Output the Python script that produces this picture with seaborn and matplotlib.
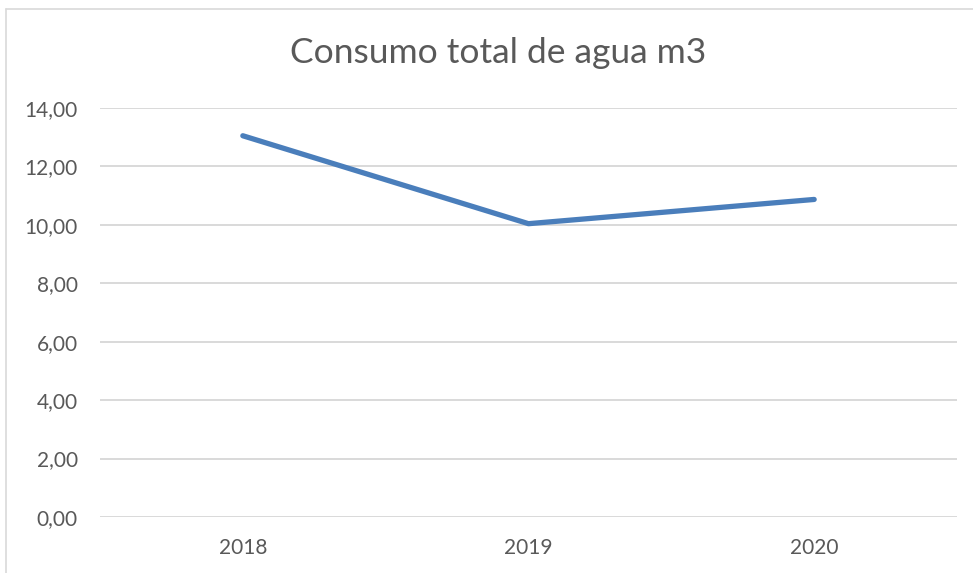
import pandas as pd
import matplotlib
matplotlib.use("Agg")
import matplotlib.pyplot as plt
from matplotlib.ticker import FuncFormatter, MultipleLocator
import seaborn as sns

# ---------- Data ----------
years = ["2018", "2019", "2020"]
consumo = [13.05, 10.04, 10.87]

df = pd.DataFrame({"Año": years, "Consumo": consumo})

# ---------- Style ----------
sns.set_style("white")
plt.rcParams["font.family"] = ["Lato", "DejaVu Sans"]

fig = plt.figure(figsize=(9.73, 5.73), dpi=100)
ax = fig.add_axes([100 / 973, 56 / 573, 857 / 973, 409 / 573])

sns.lineplot(data=df, x="Año", y="Consumo", ax=ax, color="#4A7EBB",
             linewidth=3.8, solid_capstyle="round", sort=False)

ax.set_xlim(-0.5, 2.5)
ax.set_ylim(0, 14)
ax.yaxis.set_major_locator(MultipleLocator(2))
ax.yaxis.set_major_formatter(FuncFormatter(lambda v, p: f"{v:.2f}".replace(".", ",")))
ax.grid(axis="y", color="#D9D9D9", linewidth=1.4)
ax.set_axisbelow(True)
for s in ax.spines.values():
    s.set_visible(False)
ax.tick_params(axis="both", length=0, labelsize=15, colors="#595959")
ax.tick_params(axis="y", pad=16)
ax.tick_params(axis="x", pad=15)
ax.set_xlabel("")
ax.set_ylabel("")

fig.text(0.512, 0.908, "Consumo total de agua m3", ha="center", va="center",
         fontsize=25.5, color="#595959")

# chart frame (left and top edges visible)
fig.add_artist(plt.Line2D([6 / 973, 6 / 973], [0, 1 - 9 / 573], color="#D9D9D9", linewidth=1.2))
fig.add_artist(plt.Line2D([6 / 973, 1], [1 - 9 / 573, 1 - 9 / 573], color="#D9D9D9", linewidth=1.2))

fig.savefig("out.png", dpi=100)
